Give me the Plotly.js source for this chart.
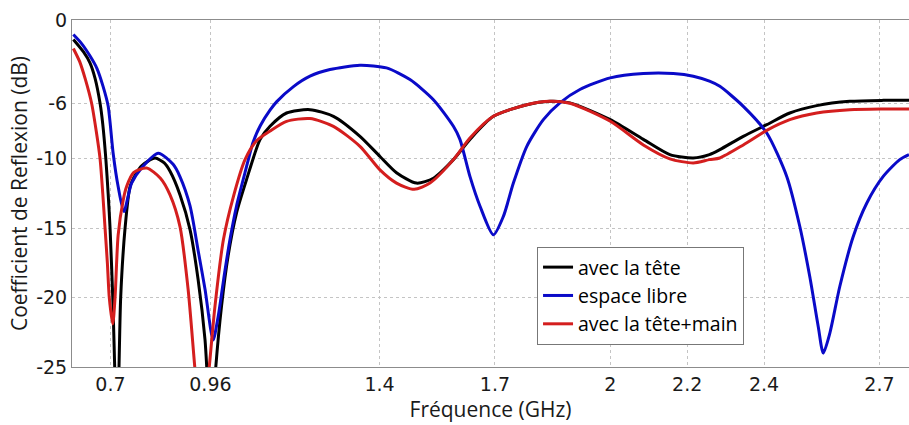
<!DOCTYPE html>
<html>
<head>
<meta charset="utf-8">
<script src="https://cdn.plot.ly/plotly-3.0.1.min.js"></script>
<style>html,body{margin:0;padding:0;background:#fff;}#chart{width:909px;height:425px;}</style>
</head>
<body>
<div id="chart"></div>
<script>
// Frequencies (GHz) and reflection coefficient (dB)
const freqTete = [0.6035,0.63,0.647,0.66,0.673,0.68,0.688,0.694,0.699,0.706,0.7175,0.7266,0.738,0.751,0.766,0.781,0.816,0.84,0.855,0.881,0.907,0.928,0.946,0.962,0.974,0.989,1.006,1.028,1.054,1.089,1.115,1.158,1.219,1.28,1.349,1.401,1.444,1.496,1.54,1.592,1.635,1.696,1.783,1.843,1.895,2.0,2.086,2.155,2.216,2.258,2.285,2.346,2.407,2.467,2.537,2.623,2.71,2.777];
const s11Tete = [-1.4,-2.3,-3.1,-4.2,-6,-7.5,-10,-12.5,-15,-20,-30,-20,-15,-12,-11.1,-10.5,-9.95,-10.3,-10.9,-12.6,-15.1,-18.7,-23.05,-30,-25,-20.6,-17,-13.9,-11.5,-8.62,-7.66,-6.7,-6.46,-6.94,-8.38,-9.83,-11.0,-11.75,-11.4,-10.06,-8.6,-6.94,-6.1,-5.86,-5.97,-7.18,-8.6,-9.7,-9.94,-9.7,-9.34,-8.38,-7.54,-6.7,-6.17,-5.86,-5.79,-5.79];

const freqLibre = [0.6035,0.625,0.647,0.665,0.681,0.694,0.707,0.72,0.735,0.755,0.781,0.8245,0.863,0.881,0.907,0.928,0.946,0.967,0.98,0.997,1.011,1.028,1.05,1.071,1.09,1.115,1.132,1.176,1.219,1.271,1.349,1.418,1.479,1.54,1.592,1.609,1.635,1.661,1.696,1.722,1.748,1.783,1.826,1.869,1.921,2.0,2.086,2.164,2.216,2.258,2.285,2.346,2.407,2.459,2.493,2.519,2.541,2.554,2.571,2.597,2.632,2.667,2.71,2.753,2.777];
const s11Libre = [-1.05,-1.7,-2.6,-3.5,-4.8,-6.2,-9.6,-12,-13.8,-11.75,-10.66,-9.6,-10.4,-11.3,-13.4,-16.6,-19.4,-23.05,-21.4,-18.2,-15.8,-13.4,-11.0,-8.8,-7.6,-6.5,-5.9,-4.8,-4.05,-3.57,-3.26,-3.45,-4.29,-5.74,-7.66,-8.6,-11.27,-13.4,-15.48,-14.15,-11.75,-9.1,-7.18,-5.97,-5.01,-4.17,-3.86,-3.86,-4.05,-4.41,-4.78,-6.22,-8.14,-11.27,-14.88,-18.5,-22.1,-24.0,-22.57,-19.2,-15.6,-13.2,-11.27,-10.06,-9.7];

const freqMain = [0.6035,0.62,0.635,0.651,0.663,0.673,0.68,0.686,0.692,0.697,0.706,0.712,0.72,0.733,0.742,0.76,0.794,0.83,0.855,0.881,0.902,0.92,0.938,0.957,0.972,0.994,1.02,1.05,1.08,1.115,1.158,1.219,1.28,1.349,1.401,1.444,1.49,1.531,1.592,1.635,1.696,1.783,1.843,1.895,2.0,2.086,2.155,2.216,2.258,2.285,2.346,2.407,2.467,2.537,2.623,2.71,2.777];
const s11Main = [-2.05,-3.0,-4.3,-6,-8,-10,-12.5,-15,-17.5,-20,-21.9,-20,-15.5,-13,-12,-11,-10.66,-11.4,-12.6,-14.9,-19.4,-25.2,-30.5,-25,-20.6,-15.8,-12.7,-10.06,-8.7,-8.0,-7.3,-7.1,-7.66,-9.1,-10.8,-11.75,-12.2,-11.75,-10.06,-8.5,-6.94,-6.1,-5.86,-6.0,-7.3,-9.0,-10.0,-10.3,-10.06,-9.94,-9.0,-7.95,-7.18,-6.7,-6.46,-6.41,-6.41];

const seriesNames = ['avec la tête', 'espace libre', 'avec la tête+main'];
const xTicks = [0.7, 0.96, 1.4, 1.7, 2, 2.2, 2.4, 2.7];
const yTicks = [0, -6, -10, -15, -20, -25];

const lineStyle = (c) => ({color: c, width: 3, shape: 'spline', smoothing: 0.7});
const traces = [
  {x: freqTete, y: s11Tete, name: seriesNames[0], mode: 'lines', line: lineStyle('#000000')},
  {x: freqLibre, y: s11Libre, name: seriesNames[1], mode: 'lines', line: lineStyle('#0a0ac8')},
  {x: freqMain, y: s11Main, name: seriesNames[2], mode: 'lines', line: lineStyle('#d41e1e')}
];

const titleFont = {family: 'Open Sans, sans-serif', size: 21, color: '#1a1a1a'};
const axisCommon = {
  showline: true, linecolor: '#8c8c8c', linewidth: 1, mirror: true,
  showgrid: true, gridcolor: '#c4c4c4', griddash: 'dot', gridwidth: 1,
  zeroline: false, ticks: '',
  tickfont: {family: 'DejaVu Sans, sans-serif', size: 19, color: '#1a1a1a'}
};

const layout = {
  width: 909, height: 425,
  margin: {l: 72, r: 0, t: 20, b: 58},
  paper_bgcolor: '#ffffff', plot_bgcolor: '#ffffff',
  showlegend: true,
  legend: {
    x: 0.5556, y: 0.346, xanchor: 'left', yanchor: 'top',
    bgcolor: '#ffffff', bordercolor: '#777777', borderwidth: 1,
    font: {family: 'Open Sans, sans-serif', size: 19.5, color: '#000'},
    tracegroupgap: 0, itemwidth: 30
  },
  xaxis: Object.assign({}, axisCommon, {
    range: [0.6, 2.777], tickvals: xTicks, ticktext: xTicks.map(String),
    title: {text: 'Fréquence (GHz)', font: titleFont, standoff: 2}
  }),
  yaxis: Object.assign({}, axisCommon, {
    range: [-25, 0], tickvals: yTicks, ticktext: yTicks.map(String),
    title: {text: 'Coefficient de Reflexion (dB)', font: titleFont, standoff: 2}
  })
};

Plotly.newPlot('chart', traces, layout, {displayModeBar: false, staticPlot: true});
</script>
</body>
</html>
